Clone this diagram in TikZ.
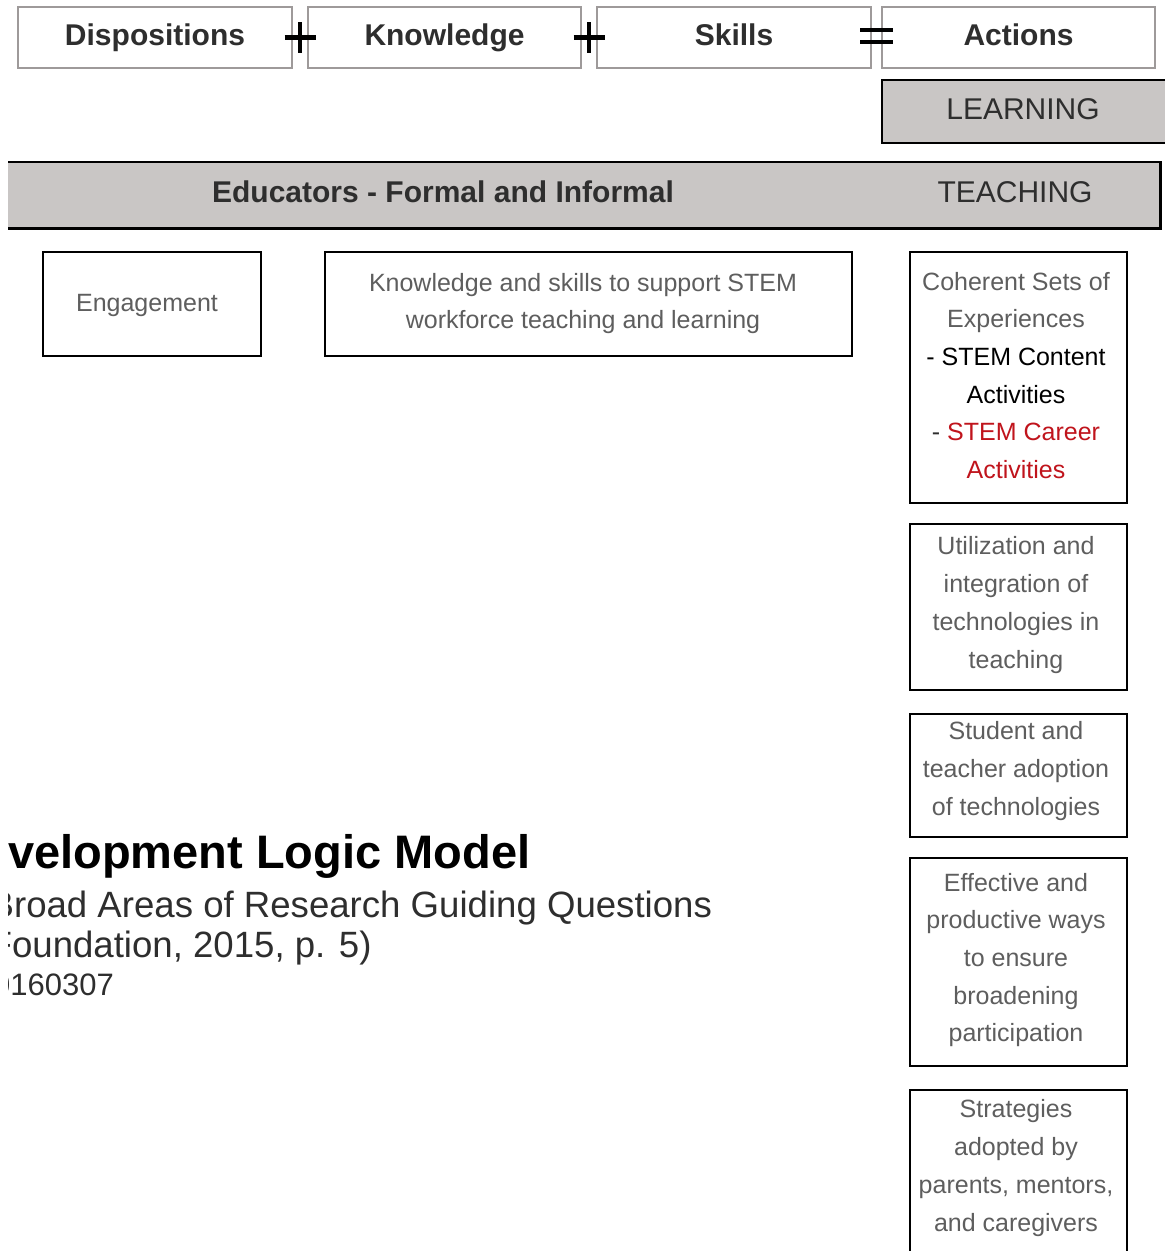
\documentclass[tikz,border=0pt]{standalone}
\usepackage{fontspec}
\usetikzlibrary{calc}
\setmainfont{Liberation Sans}
\definecolor{bandgray}{HTML}{C9C6C5}
\definecolor{framegray}{HTML}{9E9A9A}
\definecolor{softtext}{HTML}{5E5E5E}
\definecolor{darktext}{HTML}{2E2E2E}
\definecolor{careerred}{HTML}{C0141C}

\begin{document}
\begin{tikzpicture}[x=1pt,y=-1pt,
  topbox/.style={draw=framegray, line width=1.8pt, fill=white, inner sep=0pt,
    minimum height=61pt, text height=21pt, text depth=6pt,
    font=\fontsize{30}{36}\selectfont\bfseries, text=darktext},
  bandbox/.style={fill=bandgray, inner sep=0pt},
  frame/.style={draw=black, line width=2.3pt, fill=white, inner sep=0pt},
  bandlabel/.style={inner sep=0pt, text=darktext, text height=21pt, text depth=6pt,
    font=\fontsize{30}{36}\selectfont},
  boxtext/.style={inner sep=0pt, align=center, text=softtext,
    font=\fontsize{25}{37.7}\selectfont},
  opstroke/.style={line width=4.4pt, black},
  titletext/.style={inner sep=0pt, anchor=base west, text=black}
]
\useasboundingbox (0,0) rectangle (1165,1251);
\clip (8,0) rectangle (1165,1251);

% top row: dispositions + knowledge + skills = actions
\node[topbox, minimum width=274pt] (disp)   at (155,37.5)   {Dispositions};
\node[topbox, minimum width=273pt] (know)   at (444.5,37.5) {Knowledge};
\node[topbox, minimum width=274pt] (skills) at (734,37.5)   {Skills};
\node[topbox, minimum width=273pt] (acts)   at (1018.5,37.5){Actions};

% operators between the boxes
\coordinate (plusA) at ($(disp.east)!0.5!(know.west)$);
\coordinate (plusB) at ($(know.east)!0.5!(skills.west)$);
\coordinate (eqC)   at ($(skills.east)!0.5!(acts.west)$);
\draw[opstroke] ([xshift=-15.5pt]plusA) -- ([xshift=15.5pt]plusA);
\draw[opstroke] ([yshift=15.5pt]plusA) -- ([yshift=-15.5pt]plusA);
\draw[opstroke] ([xshift=-15.5pt]plusB) -- ([xshift=15.5pt]plusB);
\draw[opstroke] ([yshift=15.5pt]plusB) -- ([yshift=-15.5pt]plusB);
\draw[opstroke, line width=4pt] ([xshift=-16.5pt,yshift=7.5pt]eqC) -- ([xshift=16.5pt,yshift=7.5pt]eqC);
\draw[opstroke, line width=4pt] ([xshift=-16.5pt,yshift=-4.5pt]eqC) -- ([xshift=16.5pt,yshift=-4.5pt]eqC);

% learning banner
\node[bandbox, draw=black, line width=2.3pt, minimum width=293pt, minimum height=63pt]
  (learn) at (1028.5,111.5) {};
\node[bandlabel] (learnlbl) at (1023,112) {LEARNING};

% teaching band
\node[bandbox, minimum width=1180pt, minimum height=66pt] (teach) at (570,195) {};
\draw[line width=2.6pt] (teach.north west) -- (teach.north east) -- (teach.south east) -- (teach.south west);
\node[bandlabel, font=\fontsize{30}{36}\selectfont\bfseries] (edulbl) at (443,195)
  {Educators - Formal and Informal};
\node[bandlabel] (teachlbl) at (1015,195) {TEACHING};

% educator boxes
\node[frame, minimum width=218pt, minimum height=104pt] (engage) at (152,304) {};
\node[boxtext] (engagetxt) at (147,305) {Engagement};
\node[frame, minimum width=527pt, minimum height=104pt] (ksbox) at (588.5,304) {};
\node[boxtext] (kstxt) at (583,303.5) {Knowledge and skills to support STEM\\workforce teaching and learning};

% teaching column
\node[frame, minimum width=217pt, minimum height=251pt] (col1) at (1018.5,377.5) {};
\node[boxtext] (col1txt) at (1016,375.5)
  {Coherent Sets of\\Experiences\\{\color{black}- STEM Content}\\{\color{black}Activities}\\
   {\color{darktext}-} {\color{careerred}STEM Career}\\{\color{careerred}Activities}};
\node[frame, minimum width=217pt, minimum height=166pt] (col2) at (1018.5,607) {};
\node[boxtext] (col2txt) at (1016,605)
  {Utilization and\\integration of\\technologies in\\teaching};
\node[frame, minimum width=217pt, minimum height=123pt] (col3) at (1018.5,775.5) {};
\node[boxtext] (col3txt) at (1016,771)
  {Student and\\teacher\ adoption\\of technologies};
\node[frame, minimum width=217pt, minimum height=208pt] (col4) at (1018.5,962) {};
\node[boxtext] (col4txt) at (1016,960)
  {Effective and\\productive ways\\to ensure\\broadening\\participation};
\node[frame, minimum width=217pt, minimum height=174pt] (col5) at (1018.5,1177) {};
\node[boxtext] (col5txt) at (1016,1168)
  {Strategies\\adopted by\\parents, mentors,\\and caregivers};

% title block
\node[titletext, font=\fontsize{47}{56}\selectfont\bfseries] (title) at (8,868)
  {velopment Logic Model};
\node[titletext, text=darktext, font=\fontsize{36.6}{44}\selectfont] (sub1) at (-10.5,917)
  {Broad Areas of Research Guiding Questions};
\node[titletext, text=darktext, font=\fontsize{36.6}{44}\selectfont] (sub2) at (-10.5,957)
  {Foundation, 2015, p. 5)};
\node[titletext, text=darktext, font=\fontsize{31}{37}\selectfont] (stamp) at (-7,995)
  {0160307};
\end{tikzpicture}
\end{document}
